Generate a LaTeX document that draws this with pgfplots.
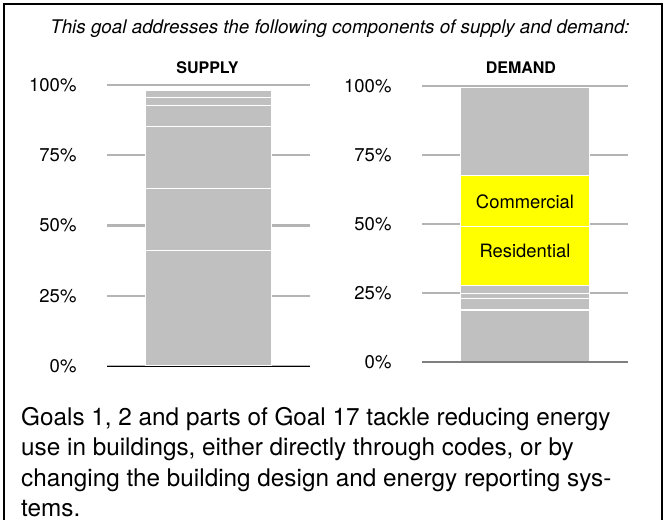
\documentclass[border=0pt]{standalone}
\usepackage{fontspec}
\setmainfont{TeX Gyre Heros}
\usepackage{pgfplots}
\pgfplotsset{compat=1.18}
\definecolor{barGray}{HTML}{C0C0C0}
\definecolor{gridGray}{HTML}{B4B4B4}
\definecolor{darkLine}{HTML}{7F7F7F}
\definecolor{hiYellow}{HTML}{FFFF00}
\pgfplotsset{
  goalbar/.style={
    scale only axis,
    ybar stacked,
    xmin=0, xmax=1,
    ymin=0, ymax=100,
    xtick=\empty,
    ytick={0,25,50,75,100},
    yticklabels={0\%,25\%,50\%,75\%,100\%},
    ymajorgrids,
    grid style={draw=gridGray, line width=2.4pt},
    axis line style={draw=none},
    major tick length=0pt,
    yticklabel style={font=\fontsize{18.5}{20}\selectfont, anchor=east, xshift=-27pt},
    every axis plot/.append style={draw=white, line width=1.3pt},
    clip=false,
  },
  seg/.style={fill=barGray},
  hot/.style={fill=hiYellow},
}

\begin{document}
\begin{tikzpicture}[x=1pt,y=1pt]
\useasboundingbox (0,0) rectangle (666,519);
\fill[white] (0,0) rectangle (666,519);
% frame
\draw[line width=1.8pt] (4,-10) -- (4,515) -- (662,515) -- (662,-10);

\node[font=\fontsize{18.8}{22}\selectfont\itshape, anchor=base] at (340,485)
  {This goal addresses the following components of supply and demand:};

% supply
\begin{axis}[goalbar, at={(107pt,153pt)}, anchor=south west,
  width=203pt, height=281pt, bar width=126pt]
\addplot[seg] coordinates {(0.5,41.0)};
\addplot[seg] coordinates {(0.5,22.2)};
\addplot[seg] coordinates {(0.5,22.0)};
\addplot[seg] coordinates {(0.5,7.4)};
\addplot[seg] coordinates {(0.5,2.9)};
\addplot[seg] coordinates {(0.5,2.7)};
\coordinate (supL) at (rel axis cs:0,0);
\coordinate (supR) at (rel axis cs:1,0);
\coordinate (suptitle) at (rel axis cs:0.495,1.06);
\end{axis}

% demand
\begin{axis}[goalbar, at={(422pt,157pt)}, anchor=south west,
  width=206pt, height=276pt, bar width=129pt]
\addplot[seg] coordinates {(0.5,18.8)};
\addplot[seg] coordinates {(0.5,4.2)};
\addplot[seg] coordinates {(0.5,1.8)};
\addplot[seg] coordinates {(0.5,2.9)};
\addplot[hot] coordinates {(0.5,21.5)};
\addplot[hot] coordinates {(0.5,18.3)};
\addplot[seg] coordinates {(0.5,31.9)};
\coordinate (demL) at (rel axis cs:0,0);
\coordinate (demR) at (rel axis cs:1,0);
\coordinate (demtitle) at (rel axis cs:0.48,1.065);
\coordinate (com) at (axis cs:0.5,58.1);
\coordinate (res) at (axis cs:0.5,40.3);
\end{axis}

% baselines in front of the bars
\draw[black, line width=1.5pt] ([yshift=-0.5pt]supL) -- ([yshift=-0.5pt]supR);
\draw[darkLine, line width=2pt] ([yshift=-0.5pt]demL) -- ([yshift=-0.5pt]demR);

\node[font=\fontsize{16}{18}\selectfont\bfseries] at (suptitle) {SUPPLY};
\node[font=\fontsize{16}{18}\selectfont\bfseries] at (demtitle) {DEMAND};
\node[font=\fontsize{18.4}{20}\selectfont] at (com) {Commercial};
\node[font=\fontsize{18.4}{20}\selectfont] at (res) {Residential};

\node[font=\fontsize{24.3}{30}\selectfont, anchor=base west, align=left, inner sep=0pt] at (21,3)
  {Goals 1, 2 and parts of Goal 17 tackle reducing energy\\
   use in buildings, either directly through codes, or by\\
   changing the building design and energy reporting sys-\\
   tems.};
\end{tikzpicture}
\end{document}
